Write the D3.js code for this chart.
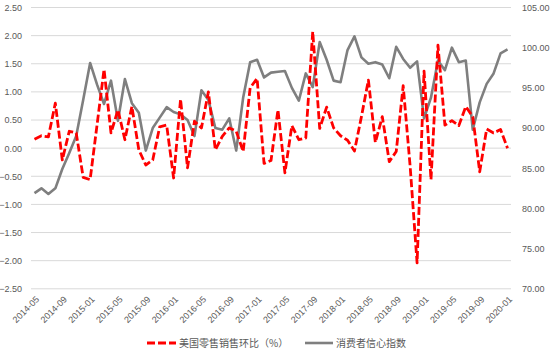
<!DOCTYPE html>
<html><head><meta charset="utf-8">
<script src="https://cdn.jsdelivr.net/npm/d3@7"></script>
<style>
html,body{margin:0;padding:0;background:#fff;}
svg{display:block;}
text{font-family:"Noto Sans CJK SC","Noto Sans",sans-serif;}
.num{font-family:"Liberation Sans","Noto Sans",sans-serif;}
</style></head>
<body>
<svg id="c" width="550" height="353"></svg>
<script>
// ---- data ----
const months = [];
for (let y = 2014, m = 5; !(y === 2020 && m === 2); ) {
  months.push(y + "-" + String(m).padStart(2, "0"));
  m++; if (m > 12) { m = 1; y++; }
}
const retailMoM = [0.16,0.22,0.20,0.80,-0.21,0.30,0.27,-0.52,-0.56,0.42,
  1.40,0.27,0.68,0.15,0.74,-0.03,-0.30,-0.21,0.38,0.41,
  -0.53,0.87,-0.35,0.48,0.36,1.00,-0.03,0.21,0.36,0.30,
  -0.06,1.07,1.24,-0.27,-0.22,0.68,-0.44,0.40,0.15,0.18,
  2.07,0.35,0.73,0.36,0.22,0.14,-0.05,0.56,1.21,0.10,
  0.56,-0.24,-0.06,1.11,-0.32,-2.04,1.37,-0.56,1.83,0.41,
  0.49,0.40,0.74,0.56,-0.42,0.34,0.27,0.33,0.00];
const sentiment = [81.9,82.5,81.8,82.5,84.9,86.9,89.0,93.5,98.1,95.4,
  93.0,95.9,90.9,96.1,93.1,91.9,87.2,90.0,91.3,92.6,
  92.0,91.7,91.0,89.0,94.7,93.5,90.0,89.8,91.2,87.2,
  93.8,98.2,98.5,96.3,96.9,97.0,97.1,95.0,93.4,96.8,
  95.1,100.7,98.5,95.9,95.7,99.7,101.4,98.8,98.0,98.2,
  97.9,96.2,100.1,98.6,97.5,98.3,91.2,93.8,98.4,97.2,
  100.0,98.2,98.4,89.8,93.2,95.5,96.8,99.3,99.8];
const leftTicks = [2.5,2.0,1.5,1.0,0.5,0.0,-0.5,-1.0,-1.5,-2.0,-2.5];
const rightTicks = [105,100,95,90,85,80,75,70];
const xLabelEvery = 4;
const seriesNames = ["美国零售销售环比（%）", "消费者信心指数"];

// ---- chart ----
const svg = d3.select("#c");
const L = 31, R = 511, T = 7.5, B = 288.8;
const x = d3.scaleBand().domain(months).range([L, R]).padding(0);
const cx = d => x(d) + x.bandwidth() / 2;
const yL = d3.scaleLinear().domain([-2.5, 2.5]).range([B, T]);
const yR = d3.scaleLinear().domain([70, 105]).range([B, T]);

// grid
svg.append("g").selectAll("line").data(leftTicks).join("line")
  .attr("x1", L).attr("x2", R)
  .attr("y1", d => yL(d)).attr("y2", d => yL(d))
  .attr("stroke", "#d9d9d9").attr("stroke-width", 1);

// left axis labels
const axL = svg.append("g").attr("transform", `translate(${L},0)`)
  .call(d3.axisLeft(yL).tickValues(leftTicks).tickFormat(d3.format(".2f")).tickSize(0).tickPadding(9));
axL.select(".domain").remove();
axL.selectAll("text").attr("class", "num").attr("fill", "#595959").style("font-size", "9px");

// right axis labels
const axR = svg.append("g").attr("transform", `translate(${R},0)`)
  .call(d3.axisRight(yR).tickValues(rightTicks).tickFormat(d3.format(".2f")).tickSize(0).tickPadding(11));
axR.select(".domain").remove();
axR.selectAll("text").attr("class", "num").attr("fill", "#595959").style("font-size", "9px");

// x labels
const xl = months.filter((d, i) => i % xLabelEvery === 0);
svg.append("g").selectAll("text").data(xl).join("text")
  .attr("class", "num")
  .attr("transform", d => `translate(${cx(d) + 3},${B + 9}) rotate(-45)`)
  .attr("text-anchor", "end").attr("dy", "0.35em")
  .attr("fill", "#595959").style("font-size", "9px").text(d => d);

// gray line (right axis)
svg.append("path").datum(sentiment)
  .attr("d", d3.line().x((d, i) => cx(months[i])).y(d => yR(d)))
  .attr("fill", "none").attr("stroke", "#7f7f7f").attr("stroke-width", 2.6)
  .attr("stroke-linejoin", "round");

// red dashed line (left axis)
svg.append("path").datum(retailMoM)
  .attr("d", d3.line().x((d, i) => cx(months[i])).y(d => yL(d)))
  .attr("fill", "none").attr("stroke", "#ff0000").attr("stroke-width", 2.8)
  .attr("stroke-dasharray", "8,3").attr("stroke-linejoin", "round");

// legend
const lg = svg.append("g");
lg.append("line").attr("x1", 147).attr("x2", 176).attr("y1", 343).attr("y2", 343)
  .attr("stroke", "#ff0000").attr("stroke-width", 2.8).attr("stroke-dasharray", "8,3");
lg.append("text").attr("x", 179).attr("y", 343).attr("dy", "0.35em")
  .attr("fill", "#595959").style("font-size", "10px").text(seriesNames[0]);
lg.append("line").attr("x1", 305).attr("x2", 333).attr("y1", 343).attr("y2", 343)
  .attr("stroke", "#7f7f7f").attr("stroke-width", 2.6);
lg.append("text").attr("x", 336).attr("y", 343).attr("dy", "0.35em")
  .attr("fill", "#595959").style("font-size", "10px").text(seriesNames[1]);
</script>
</body></html>
